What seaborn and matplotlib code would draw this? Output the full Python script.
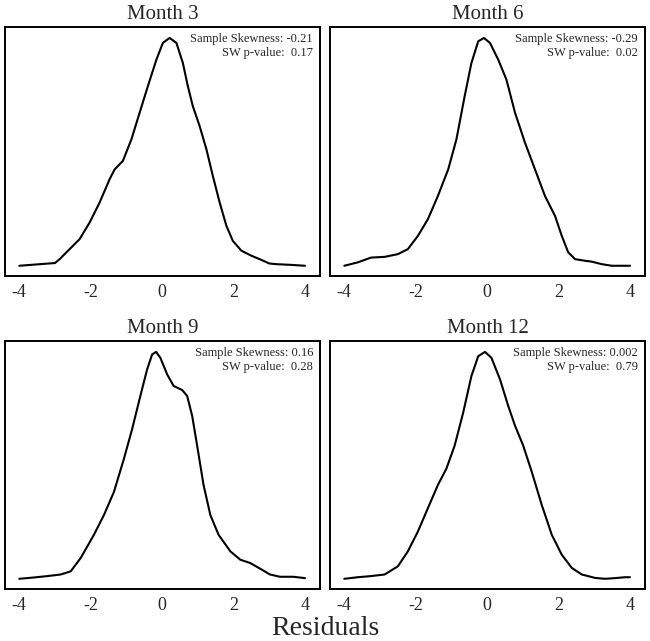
import numpy as np
import pandas as pd
import matplotlib
matplotlib.use("Agg")
import matplotlib.pyplot as plt
import seaborn as sns

# residual density curves (density scaled so peak = 1)
x_m3 = [-4.0, -3.5, -3.0, -2.87, -2.59, -2.31, -2.03, -1.75, -1.47, -1.33, -1.1, -0.86,
        -0.63, -0.4, -0.16, 0.02, 0.21, 0.4, 0.58, 0.72, 0.86, 1.05, 1.24, 1.42,
        1.61, 1.8, 1.98, 2.22, 2.5, 2.73, 3.0, 3.2, 3.6, 4.0]
d_m3 = [0.0, 0.006, 0.012, 0.029, 0.073, 0.117, 0.19, 0.278, 0.38, 0.423, 0.46, 0.555,
        0.672, 0.788, 0.905, 0.978, 1.0, 0.978, 0.89, 0.788, 0.70, 0.613, 0.511, 0.394,
        0.278, 0.175, 0.109, 0.066, 0.044, 0.029, 0.01, 0.007, 0.004, 0.0]

x_m6 = [-4.0, -3.62, -3.25, -2.87, -2.5, -2.22, -1.94, -1.66, -1.38, -1.09, -0.86, -0.63,
        -0.44, -0.25, -0.09, 0.08, 0.31, 0.54, 0.78, 1.06, 1.34, 1.62, 1.9, 2.09,
        2.27, 2.46, 2.74, 2.93, 3.21, 3.49, 4.0]
d_m6 = [0.0, 0.015, 0.036, 0.039, 0.051, 0.073, 0.131, 0.204, 0.306, 0.423, 0.555, 0.744,
        0.89, 0.985, 1.0, 0.978, 0.905, 0.817, 0.672, 0.54, 0.423, 0.306, 0.219, 0.131,
        0.059, 0.029, 0.022, 0.018, 0.007, 0.0, 0.0]

x_m9 = [-4.0, -3.58, -3.21, -2.84, -2.56, -2.28, -1.91, -1.63, -1.35, -1.07, -0.84, -0.61,
        -0.42, -0.28, -0.17, -0.05, 0.14, 0.32, 0.56, 0.7, 0.84, 0.98, 1.16, 1.35,
        1.58, 1.91, 2.19, 2.46, 2.74, 3.02, 3.3, 3.67, 4.0]
d_m9 = [0.0, 0.006, 0.012, 0.019, 0.033, 0.092, 0.194, 0.281, 0.383, 0.529, 0.66, 0.806,
        0.923, 0.989, 1.0, 0.974, 0.901, 0.85, 0.832, 0.806, 0.719, 0.587, 0.413, 0.281,
        0.194, 0.121, 0.084, 0.07, 0.045, 0.019, 0.009, 0.009, 0.003]

x_m12 = [-4.0, -3.62, -3.25, -2.87, -2.5, -2.22, -1.94, -1.66, -1.38, -1.14, -0.91, -0.67,
         -0.44, -0.25, -0.06, 0.12, 0.36, 0.59, 0.78, 1.01, 1.25, 1.53, 1.81, 2.09,
         2.37, 2.65, 3.02, 3.3, 3.58, 3.86, 4.0]
d_m12 = [0.0, 0.007, 0.012, 0.019, 0.055, 0.121, 0.208, 0.311, 0.413, 0.486, 0.587, 0.733,
         0.894, 0.981, 1.0, 0.974, 0.879, 0.762, 0.675, 0.587, 0.471, 0.325, 0.194, 0.106,
         0.048, 0.019, 0.004, 0.0, 0.003, 0.007, 0.007]

titles = ["Month 3", "Month 6", "Month 9", "Month 12"]
skewness = ["-0.21", "-0.29", "0.16", "0.002"]
sw_pvalues = ["0.17", "0.02", "0.28", "0.79"]
x_ticks = [-4, -2, 0, 2, 4]

curves = [(x_m3, d_m3), (x_m6, d_m6), (x_m9, d_m9), (x_m12, d_m12)]

sns.set_theme(style="white")
plt.rcParams["font.family"] = ["Liberation Serif", "DejaVu Serif"]

fig = plt.figure(figsize=(6.5, 6.41), dpi=100)
# axes boxes in figure fractions (left, bottom, width, height)
boxes = [
    [0.0077, 0.5694, 0.4846, 0.3885],
    [0.5077, 0.5694, 0.4846, 0.3885],
    [0.0077, 0.0811, 0.4846, 0.3869],
    [0.5077, 0.0811, 0.4846, 0.3869],
]

for box, (xs, ds), title, sk, pv in zip(boxes, curves, titles, skewness, sw_pvalues):
    ax = fig.add_axes(box)
    df = pd.DataFrame({"residual": xs, "density": ds})
    line = sns.lineplot(data=df, x="residual", y="density", ax=ax,
                        color="black", linewidth=1.5, sort=False)
    for ln in ax.lines:
        ln.set_solid_joinstyle("round")
    ax.set_xlim(-4.4, 4.42)
    ax.set_ylim(-0.045, 1.048)
    ax.set_xticks(x_ticks)
    ax.set_xticklabels([str(t) for t in x_ticks], fontsize=13)
    ax.set_yticks([])
    ax.tick_params(axis="x", length=0, pad=6)
    ax.set_xlabel("")
    ax.set_ylabel("")
    for sp in ax.spines.values():
        sp.set_visible(True)
        sp.set_color("black")
        sp.set_linewidth(1.4)
    ax.set_title(title, fontsize=15, pad=5.5)
    ax.text(0.978, 0.975, f"Sample Skewness: {sk}\nSW p-value:  {pv}",
            transform=ax.transAxes, ha="right", va="top",
            fontsize=9, linespacing=1.25, multialignment="right")

fig.text(0.5, 0.0094, "Residuals", ha="center", va="baseline", fontsize=20)

fig.savefig("out.png", dpi=100)
